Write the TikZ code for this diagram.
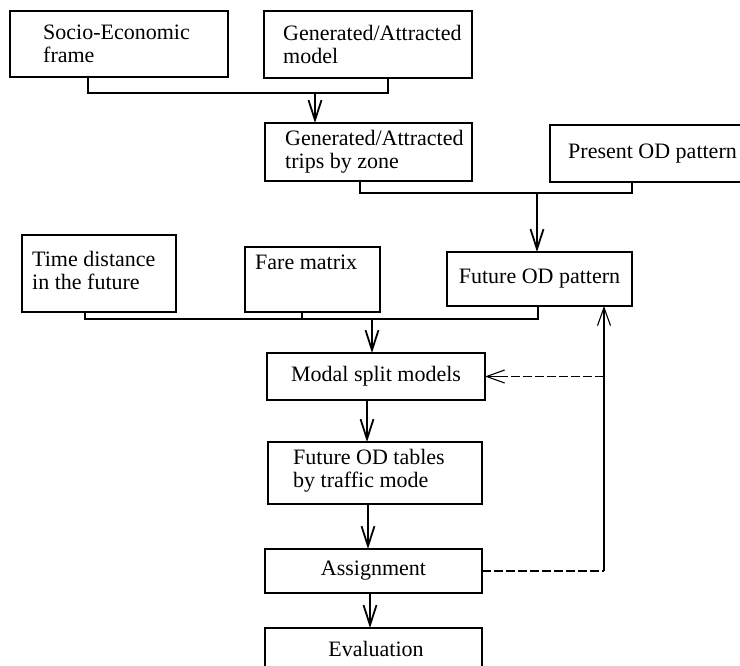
\documentclass[tikz,border=0pt]{standalone}
\usepackage{fontspec}
\setmainfont{Liberation Serif}
\usetikzlibrary{arrows.meta}
\begin{document}
\begin{tikzpicture}[x=1pt,y=-1pt,
  box/.style={draw, line width=1.8pt, inner sep=0pt, outer sep=0pt,
    font=\fontsize{22}{23}\selectfont},
  txt/.style={font=\fontsize{22}{23}\selectfont, align=left, inner sep=0pt, anchor=west},
  conn/.style={line width=1.8pt},
  arr/.style={line width=1.8pt, -{Straight Barb[length=20pt,width=13pt]}},
  fbline/.style={line width=1.1pt, dash pattern=on 9pt off 3pt},
  fbarr/.style={line width=1.1pt, -{Straight Barb[length=18pt,width=13pt]}}
]
\useasboundingbox (0,0) rectangle (740,666);
\clip (0,0) rectangle (740,666);

% boxes
\node[box, minimum width=218pt, minimum height=66pt] (soc) at (119,44) {};
\node[txt] (socT) at ([xshift=33pt]soc.west) {Socio-Economic\\frame};

\node[box, minimum width=208pt, minimum height=67pt] (gam) at (368,44.5) {};
\node[txt] (gamT) at ([xshift=19pt]gam.west) {Generated/Attracted\\model};

\node[box, minimum width=207pt, minimum height=58pt] (trips) at (368.5,152) {};
\node[txt] (tripsT) at ([xshift=20pt]trips.west) {Generated/Attracted\\trips by zone};

\node[box, minimum width=208pt, minimum height=57pt] (pres) at (654,153.5) {};
\node[txt] (presT) at ([xshift=18pt]pres.west) {Present OD pattern};

\node[box, minimum width=185pt, minimum height=54pt] (fod) at (539.5,279) {Future OD pattern};

\node[box, minimum width=154pt, minimum height=77pt] (time) at (99,273.5) {};
\node[txt] (timeT) at ([xshift=10pt,yshift=3pt]time.west) {Time distance\\in the future};

\node[box, minimum width=135pt, minimum height=65pt] (fare) at (312.5,279.5) {};
\node[txt] (fareT) at ([xshift=10pt,yshift=-15pt]fare.north west) {Fare matrix};

\node[box, minimum width=218pt, minimum height=47pt] (msm) at (376,376.5) {Modal split models};

\node[box, minimum width=214pt, minimum height=62pt] (fot) at (375,473) {};
\node[txt] (fotT) at ([xshift=25pt,yshift=2pt]fot.west) {Future OD tables\\by traffic mode};

\node[box, minimum width=217pt, minimum height=44pt] (asg) at (373.5,571) {Assignment};

\node[box, minimum width=217pt, minimum height=44pt, text depth=0pt] (eva) at (373.5,650) {};
\node[font=\fontsize{22}{23}\selectfont, inner sep=0pt] (evaT) at (376,649) {Evaluation};

% bus 1
\coordinate (b1L) at (88,93);
\coordinate (b1R) at (388,93);
\coordinate (b1M) at (315,93);
\draw[conn] (soc.south -| b1L) -- (b1L) -- (b1R) -- (gam.south -| b1R);
\draw[arr] (b1M) -- (trips.north -| b1M);

% bus 2
\coordinate (b2L) at (360,193);
\coordinate (b2R) at (632,193);
\coordinate (b2M) at (537,193);
\draw[conn] (trips.south -| b2L) -- (b2L) -- (b2R) -- (pres.south -| b2R);
\draw[arr] (b2M) -- (fod.north -| b2M);

% bus 3
\coordinate (b3L) at (85,319);
\coordinate (b3F) at (302,319);
\coordinate (b3R) at (538,319);
\coordinate (b3M) at (372,319);
\draw[conn] (time.south -| b3L) -- (b3L) -- (b3R) -- (fod.south -| b3R);
\draw[conn] (fare.south -| b3F) -- (b3F);
\draw[arr] (b3M) -- (msm.north -| b3M);

% main chain
\coordinate (c1) at (367,0);
\draw[arr] (msm.south -| c1) -- (fot.north -| c1);
\coordinate (c2) at (368,0);
\draw[arr] (fot.south -| c2) -- (asg.north -| c2);
\coordinate (c3) at (370,0);
\draw[arr] (asg.south -| c3) -- (eva.north -| c3);

% feedback
\coordinate (fbx) at (604,376.5);
\draw[fbline] (asg.east) -- (asg.east -| fbx);
\draw[fbarr] (asg.east -| fbx) -- (fod.south -| fbx);
\draw[fbline] (fbx) -- ([xshift=16pt]msm.east);
\draw[fbarr] ([xshift=18pt]msm.east) -- (msm.east);
\end{tikzpicture}
\end{document}
